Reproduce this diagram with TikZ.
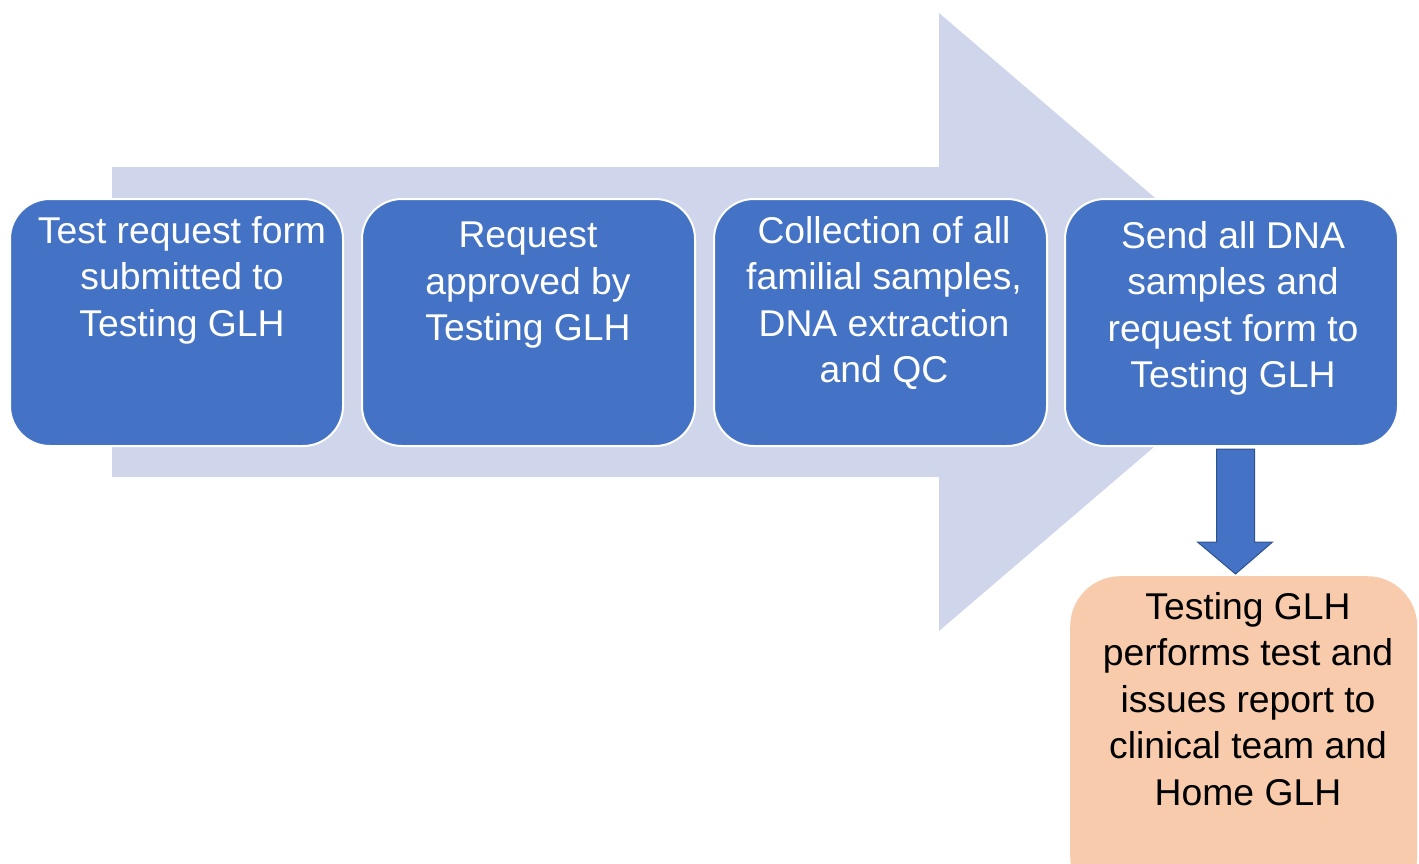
\documentclass[tikz,border=0pt]{standalone}
\usepackage{fontspec}
\setmainfont{Liberation Sans}
\usetikzlibrary{calc}
\definecolor{bigarrow}{HTML}{CFD5EA}
\definecolor{boxblue}{HTML}{4472C4}
\definecolor{arrowedge}{HTML}{2F528F}
\definecolor{peach}{HTML}{F7CBAC}
\begin{document}
\begin{tikzpicture}[x=1pt,y=-1pt,
  stepbox/.style={draw=white,line width=2pt,fill=boxblue,rounded corners=40pt,
    minimum width=333pt,minimum height=247pt,anchor=north west,inner sep=0pt},
  resbox/.style={fill=peach,rounded corners=50pt,minimum width=347pt,
    minimum height=330pt,anchor=north west,inner sep=0pt},
  boxtext/.style={text=white,align=center,anchor=north,inner sep=0pt,
    font=\fontsize{37.3}{46.5}\selectfont},
  restext/.style={boxtext,text=black},
  downarrow/.style={draw=arrowedge,fill=boxblue,line width=1pt,line join=miter}
]
\useasboundingbox (0,0) rectangle (1419,863);
\clip (0,0) rectangle (1419,863);
% big background arrow
\fill[bigarrow] (112,167) -- (939,167) -- (939,13) -- (1300,322) -- (939,631)
  -- (939,477) -- (112,477) -- cycle;
% step boxes
\node[stepbox] (b1) at (9,198) {};
\node[stepbox] (b2) at (361,198) {};
\node[stepbox] (b3) at (713,198) {};
\node[stepbox] (b4) at (1064,198) {};
\node[boxtext] (t1) at (182,216) {Test request form\\submitted to\\Testing GLH};
\node[boxtext] (t2) at (528,222) {Request\\approved by\\Testing GLH};
\node[boxtext] (t3) at (884,216) {Collection of all\\familial samples,\\DNA extraction\\and QC};
\node[boxtext] (t4) at (1233,221) {Send all DNA\\samples and\\request form to\\Testing GLH};
% result box
\node[resbox] (res) at (1070,576) {};
\node[restext] (t5) at (1248,592) {Testing GLH\\performs test and\\issues report to\\clinical team and\\Home GLH};
% down block arrow from b4 to res
\coordinate (ds) at ($(b4.south)+(4,2)$);
\coordinate (de) at ($(res.north -| ds)+(0,-2)$);
\draw[downarrow] ($(ds)+(-19,0)$) -- ($(ds)+(19,0)$) -- ($(de)+(19,-32)$)
  -- ($(de)+(37,-32)$) -- (de) -- ($(de)+(-38,-32)$) -- ($(de)+(-19,-32)$) -- cycle;
\end{tikzpicture}
\end{document}
